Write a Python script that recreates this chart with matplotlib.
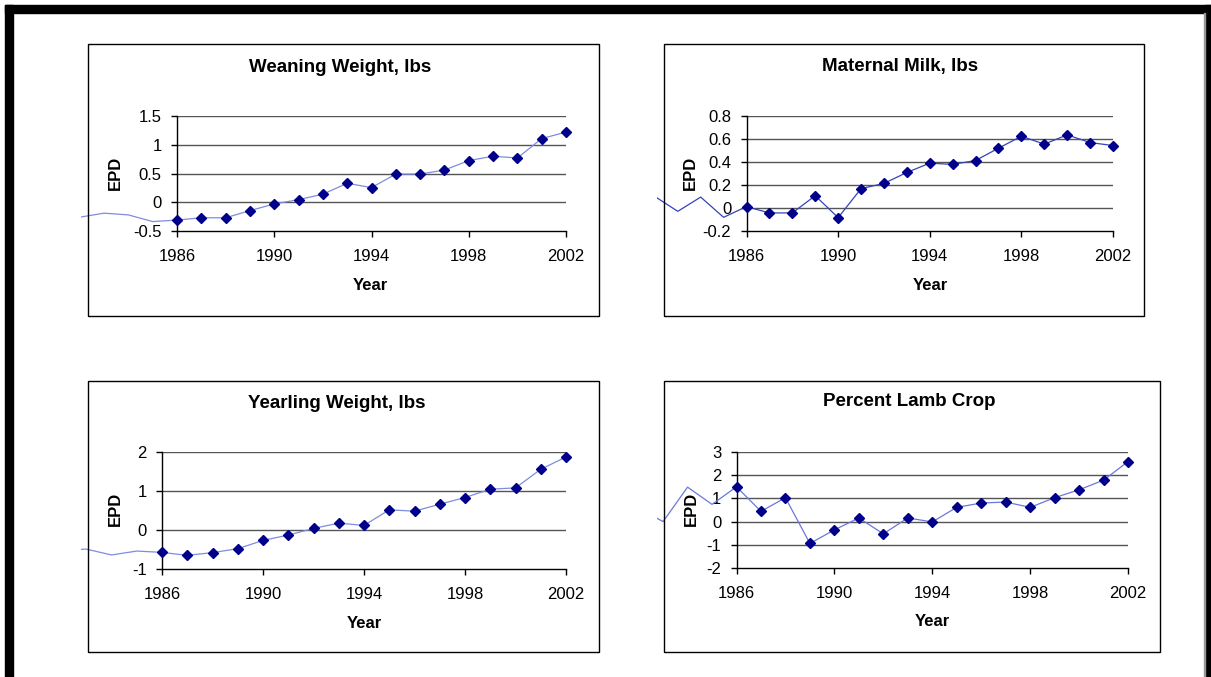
# EPD trend charts, four panels
import matplotlib
matplotlib.use("Agg")
import matplotlib.pyplot as plt
from matplotlib.patches import Rectangle

plt.rcParams['font.family'] = ['Liberation Sans', 'DejaVu Sans']

# DATA
years = list(range(1986, 2003))
early_years = [1982, 1983, 1984, 1985, 1986]
year_ticks = [1986, 1990, 1994, 1998, 2002]

titles = ["Weaning Weight, lbs", "Maternal Milk, lbs",
          "Yearling Weight, lbs", "Percent Lamb Crop"]

weaning = [-0.31, -0.27, -0.27, -0.145, -0.03, 0.046, 0.14, 0.33, 0.255,
           0.49, 0.49, 0.56, 0.725, 0.80, 0.77, 1.107, 1.22]
milk = [0.012, -0.043, -0.043, 0.107, -0.084, 0.168, 0.214, 0.309, 0.39,
        0.379, 0.413, 0.52, 0.624, 0.555, 0.636, 0.569, 0.543]
yearling = [-0.574, -0.65, -0.58, -0.48, -0.267, -0.13, 0.04, 0.176, 0.117,
            0.517, 0.483, 0.662, 0.833, 1.046, 1.08, 1.557, 1.873]
lamb_crop = [1.5, 0.443, 1.03, -0.943, -0.357, 0.157, -0.529, 0.157, -0.014,
             0.614, 0.8, 0.843, 0.614, 1.03, 1.371, 1.786, 2.586]

# stray line segments drawn left of 1986 in the original
weaning_early = [-0.26, -0.19, -0.22, -0.336, -0.31]
milk_early = [0.10, -0.029, 0.095, -0.081, 0.012]
yearling_early = [-0.52, -0.49, -0.64, -0.54, -0.574]
lamb_early = [0.58, 0.0, 1.486, 0.743, 1.5]

y_ticks = [[-0.5, 0, 0.5, 1, 1.5],
           [-0.2, 0, 0.2, 0.4, 0.6, 0.8],
           [-1, 0, 1, 2],
           [-2, -1, 0, 1, 2, 3]]

W, H = 1211, 677


def fx(x):
  return x / W


def fy(y):
  return 1 - y / H


# LAYOUT (pixels): plot area, outer box, title/ylabel/xlabel positions
panels = [
  dict(area=(177, 566, 116, 231), box=(88, 599, 44, 316),
       title=(340, 67), ylab=(115, 173), xlab=(370, 286),
       line='#7f8ce0', early='#7f8ce0'),
  dict(area=(746.5, 1113, 116, 231), box=(663.5, 1144, 44, 316),
       title=(900, 67), ylab=(690, 173), xlab=(930, 286),
       line='#3444b8', early='#3444b8'),
  dict(area=(162, 566, 452, 569), box=(88, 599, 381, 652),
       title=(337, 403), ylab=(115, 509), xlab=(364, 624),
       line='#7f8ce0', early='#7f8ce0'),
  dict(area=(736.5, 1128, 452, 568), box=(664, 1160, 381, 652),
       title=(909, 402), ylab=(691, 509), xlab=(932, 622),
       line='#6a78dc', early='#6a78dc'),
]

series = [weaning, milk, yearling, lamb_crop]
early_series = [weaning_early, milk_early, yearling_early, lamb_early]


def draw_panel(fig, p, title, values, early, ticks):
  x0, x1, yt, yb = p['area']
  bl, br, bt, bb = p['box']

  # outer chart box
  fig.patches.append(Rectangle((fx(bl), fy(bb)), fx(br - bl), (bb - bt) / H,
                               transform=fig.transFigure, fill=False,
                               edgecolor='black', linewidth=1.0))

  ax = fig.add_axes([fx(x0), fy(yb), fx(x1 - x0), (yb - yt) / H])
  ax.set_xlim(1986, 2002)
  ax.set_ylim(ticks[0], ticks[-1])
  ax.set_xticks(year_ticks)
  ax.set_yticks(ticks)
  ax.set_yticklabels(['{:g}'.format(t) for t in ticks])
  for t in ticks[1:]:
    ax.axhline(t, color='#555555', linewidth=1.0, zorder=1)

  for s in ['top', 'right']:
    ax.spines[s].set_visible(False)
  ax.spines['left'].set_linewidth(1.0)
  ax.spines['bottom'].set_linewidth(1.0)
  ax.tick_params(axis='y', length=4.5, width=1.0, pad=6.5, labelsize=12)
  ax.tick_params(axis='x', length=4, width=1.0, pad=9, labelsize=12)

  # early stray line, clipped a little left of the chart box
  ln, = ax.plot(early_years, early, color=p['early'], linewidth=0.9, zorder=2)
  clip = Rectangle((fx(bl - 7), 0), fx(x0 - bl + 7), 1, transform=fig.transFigure)
  ln.set_clip_path(clip)

  ax.plot(years, values, color=p['line'], linewidth=0.9, marker='D',
          markersize=5, markerfacecolor='#00008b', markeredgecolor='#00008b',
          clip_on=False, zorder=3)

  fig.text(fx(p['title'][0]), fy(p['title'][1]), title, ha='center',
           va='center', fontsize=13.5, fontweight='bold')
  fig.text(fx(p['ylab'][0]), fy(p['ylab'][1]), 'EPD', ha='center',
           va='center', rotation=90, fontsize=12, fontweight='bold')
  fig.text(fx(p['xlab'][0]), fy(p['xlab'][1]), 'Year', ha='center',
           va='center', fontsize=12, fontweight='bold')


def main():
  fig = plt.figure(figsize=(W / 100, H / 100), dpi=100)

  # thick page frame: top, left, right
  for (x, y, w, h) in [(5, 5, 1206, 8), (5, 5, 8, 672), (1205, 5, 6, 672)]:
    fig.patches.append(Rectangle((fx(x), fy(y + h)), fx(w), h / H,
                                 transform=fig.transFigure, color='black'))
  # thin grey edge just inside the right frame bar
  fig.patches.append(Rectangle((fx(1203.5), 0), fx(1), fy(13),
                               transform=fig.transFigure, color='#999999'))

  for i in range(4):
    draw_panel(fig, panels[i], titles[i], series[i], early_series[i], y_ticks[i])

  fig.savefig('out.png', dpi=100)


if __name__ == "__main__":
  main()
